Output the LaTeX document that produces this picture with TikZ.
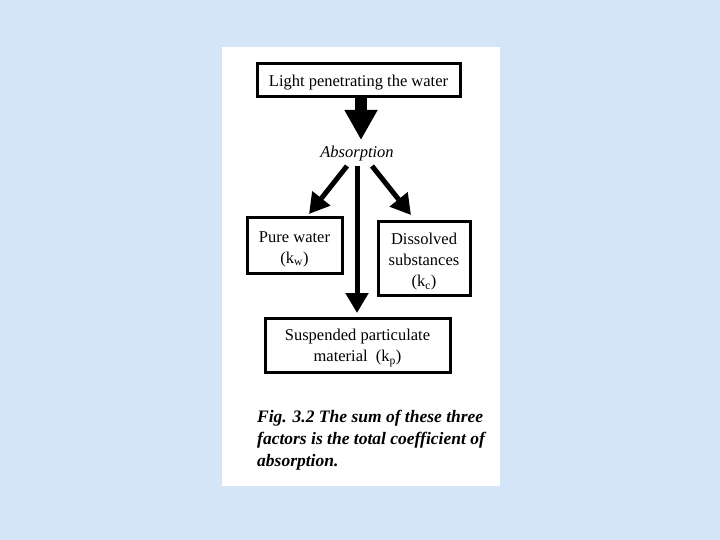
\documentclass[tikz,border=0pt]{standalone}
\usepackage{fontspec}
\setmainfont{Liberation Serif}
\usetikzlibrary{arrows.meta}
\definecolor{bgblue}{RGB}{212,229,247}
\newcommand{\dropstrut}{\rule{0pt}{18pt}}
\begin{document}
\begin{tikzpicture}[x=1pt,y=-1pt,
  box/.style={draw=black,line width=3pt,inner sep=0pt,align=center,font=\fontsize{16.5}{21}\selectfont},
  lbl/.style={inner sep=0pt,font=\fontsize{16.5}{21}\selectfont\itshape},
  bigarrow/.style={line width=12pt,-{Triangle[width=31pt,length=30pt]}},
  midarrow/.style={line width=5pt,-{Triangle[width=22pt,length=20pt]}}]
\useasboundingbox (0,0) rectangle (720,540);
\fill[bgblue] (0,0) rectangle (720,540);
\fill[white] (222,47) rectangle (500,486);
\node[box,minimum width=203pt,minimum height=33pt] (top) at (358.5,80.5) {\rule{0pt}{15pt}Light penetrating the water};
\node[lbl] (ab) at (357,154) {Absorption};
\node[box,minimum width=95pt,minimum height=55pt] (pw) at (294.5,245.5) {\dropstrut Pure water\\(k\textsubscript{w})};
\node[box,minimum width=92pt,minimum height=73pt] (ds) at (424,258.5) {\dropstrut Dissolved\\substances\\(k\textsubscript{c})};
\node[box,minimum width=185pt,minimum height=54pt] (sp) at (357.5,345) {\dropstrut Suspended particulate\\material~~(k\textsubscript{p})};
\coordinate (b0) at (361,97);
\coordinate (b1) at (361,140);
\coordinate (a1) at (347,166);
\coordinate (t1) at (309,214);
\coordinate (a2) at (372,166);
\coordinate (t2) at (411,215);
\coordinate (a3) at (357,166);
\coordinate (t3) at (357,313);
\draw[bigarrow] (b0) -- (b1);
\draw[midarrow] (a1) -- (t1);
\draw[midarrow] (a2) -- (t2);
\draw[midarrow] (a3) -- (t3);
\node[anchor=north west,inner sep=0pt,align=left,font=\fontsize{17.5}{22}\selectfont\bfseries\itshape] (cap) at (257,410) {Fig. 3.2 The sum of these three\\factors is the total coefficient of\\absorption.};
\end{tikzpicture}
\end{document}
